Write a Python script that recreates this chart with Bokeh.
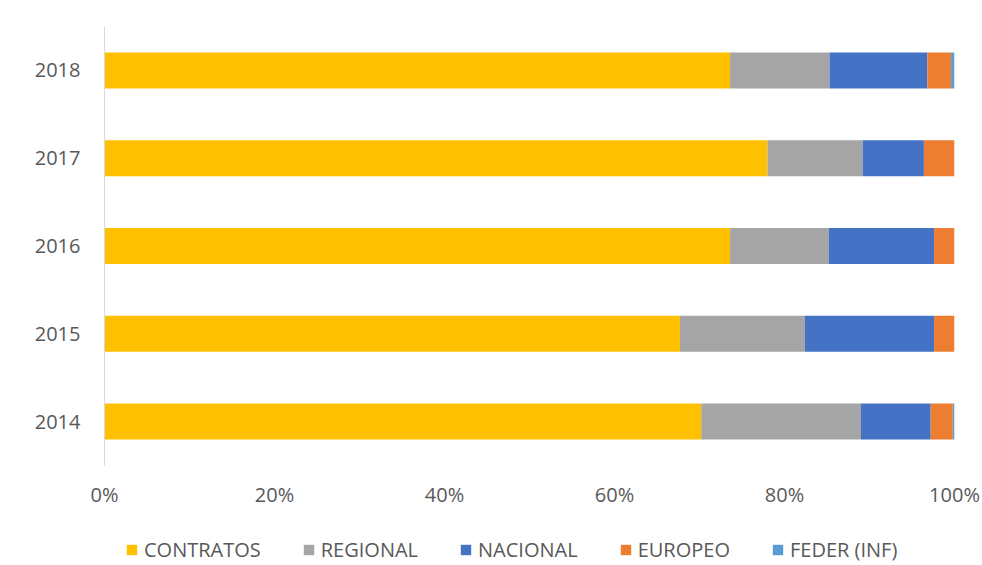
from bokeh.plotting import figure
from bokeh.layouts import column
from bokeh.models import Legend, LegendItem, ColumnDataSource, FixedTicker, NumeralTickFormatter, FactorRange, Range1d
from bokeh.embed import file_html
from bokeh.resources import INLINE

years = ["2014", "2015", "2016", "2017", "2018"]
contratos = [70.2, 67.7, 73.6, 78.0, 73.6]
regional = [18.8, 14.7, 11.6, 11.2, 11.7]
nacional = [8.2, 15.2, 12.4, 7.2, 11.5]
europeo = [2.6, 2.4, 2.4, 3.6, 2.8]
feder = [0.2, 0.0, 0.0, 0.0, 0.4]

series = ["CONTRATOS", "REGIONAL", "NACIONAL", "EUROPEO", "FEDER (INF)"]
keys = ["contratos", "regional", "nacional", "europeo", "feder"]
colors = ["#FFC000", "#A5A5A5", "#4472C4", "#ED7D31", "#5B9BD5"]

src = ColumnDataSource(dict(
    years=years,
    contratos=[v / 100 for v in contratos],
    regional=[v / 100 for v in regional],
    nacional=[v / 100 for v in nacional],
    europeo=[v / 100 for v in europeo],
    feder=[v / 100 for v in feder],
))

font = "Open Sans"

p = figure(width=982, height=515, output_backend="svg", toolbar_location=None,
           y_range=FactorRange(*years, range_padding=0), x_range=Range1d(0, 1),
           min_border_left=104, min_border_right=28, min_border_top=26, min_border_bottom=50)

rs = p.hbar_stack(keys, y="years", height=0.41, color=colors, source=src, line_color=None)

p.xaxis.ticker = FixedTicker(ticks=[0, 0.2, 0.4, 0.6, 0.8, 1.0])
p.xaxis.formatter = NumeralTickFormatter(format="0%")
p.xaxis.axis_line_color = None
p.xaxis.major_tick_line_color = None
p.xaxis.minor_tick_line_color = None
p.xaxis.major_tick_out = 0
p.xaxis.major_label_standoff = 15
p.yaxis.axis_line_color = "#D9D9D9"
p.yaxis.major_tick_line_color = None
p.yaxis.minor_tick_line_color = None
p.yaxis.major_tick_out = 0
p.yaxis.major_label_standoff = 24
for ax in (p.xaxis, p.yaxis):
    ax.major_label_text_font = font
    ax.major_label_text_font_size = "20px"
    ax.major_label_text_color = "#595959"

p.xgrid.grid_line_color = None
p.ygrid.grid_line_color = None
p.outline_line_color = None

# legend strip below the chart (its frame is aligned with the chart's frame)
lf = figure(width=982, height=50, output_backend="svg", toolbar_location=None,
            x_range=Range1d(0, 1), y_range=Range1d(0, 1),
            x_axis_location=None, y_axis_location=None,
            min_border_left=104, min_border_right=28, min_border_top=0, min_border_bottom=0)
lf.xgrid.grid_line_color = None
lf.ygrid.grid_line_color = None
lf.outline_line_color = None
hidden = ColumnDataSource(dict(y=[-5], left=[0], right=[0]))
dummies = [lf.hbar(y="y", left="left", right="right", height=0.5, source=hidden,
                   fill_color=c, line_color=None) for c in colors]
items = [LegendItem(label=s, renderers=[r]) for s, r in zip(series, dummies)]
legend = Legend(items=items, orientation="horizontal", location=(21, 2),
                glyph_width=13, glyph_height=13, label_standoff=6, spacing=41,
                padding=0, margin=0, border_line_color=None, background_fill_alpha=0,
                label_text_font=font, label_text_font_size="20px", label_text_color="#595959")
lf.add_layout(legend, "center")

layout = column(p, lf, spacing=0)
open("out.html", "w").write(file_html(layout, INLINE))
